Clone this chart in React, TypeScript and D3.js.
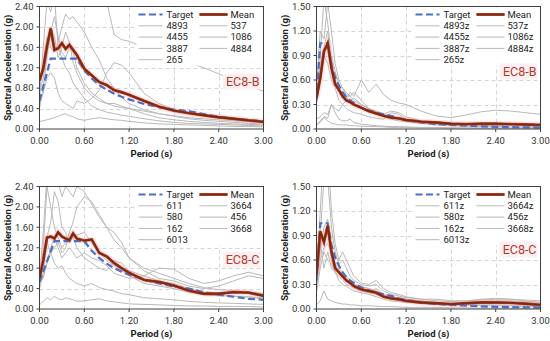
import * as d3 from 'd3'

// periods (s) shared by every spectrum
const PERIODS = [0, 0.05, 0.1, 0.15, 0.2, 0.25, 0.3, 0.35, 0.4, 0.45, 0.5, 0.6, 0.7, 0.8, 0.9, 1.0, 1.1, 1.2, 1.4, 1.6, 1.8, 2.0, 2.2, 2.4, 2.6, 2.8, 3.0]
const X_TICKS = [0, 0.6, 1.2, 1.8, 2.4, 3.0]
const Y_TICKS_H = [0, 0.4, 0.8, 1.2, 1.6, 2.0, 2.4]
const Y_TICKS_V = [0, 0.3, 0.6, 0.9, 1.2, 1.5]

// EC8-B horizontal
const TARGET_B = [0.55, 0.83, 1.1, 1.38, 1.38, 1.38, 1.38, 1.38, 1.38, 1.38, 1.38, 1.15, 0.99, 0.86, 0.77, 0.69, 0.63, 0.58, 0.49, 0.43, 0.38, 0.35, 0.29, 0.24, 0.2, 0.18, 0.15]
const MEAN_B = [0.95, 1.18, 1.62, 1.97, 1.55, 1.58, 1.68, 1.57, 1.65, 1.55, 1.45, 1.18, 1.05, 0.92, 0.86, 0.76, 0.72, 0.67, 0.55, 0.44, 0.36, 0.31, 0.27, 0.23, 0.2, 0.17, 0.14]
const NAMES_B = ['4893', '537', '4455', '1086', '3887', '4884', '265']
const RECORDS_B = [
  [2.6, 3.0, 3.2, 3.4, 3.3, 3.1, 3.0, 2.9, 2.8, 2.7, 2.65, 2.55, 2.5, 2.5, 2.5, 1.85, 1.75, 1.72, 1.6, 1.5, 1.4, 1.3, 1.2, 1.08, 0.96, 0.85, 0.74],
  [0.9, 1.3, 1.8, 1.6, 1.5, 1.7, 2.0, 2.25, 2.15, 2.2, 2.1, 1.9, 1.6, 1.35, 1.0, 0.8, 0.62, 0.5, 0.38, 0.3, 0.25, 0.2, 0.17, 0.15, 0.13, 0.11, 0.1],
  [0.6, 1.6, 2.5, 2.3, 2.6, 1.6, 1.4, 1.2, 1.1, 0.9, 0.8, 0.6, 0.45, 0.38, 0.33, 0.3, 0.27, 0.25, 0.2, 0.16, 0.13, 0.11, 0.1, 0.09, 0.08, 0.07, 0.06],
  [0.5, 0.7, 1.0, 1.1, 1.0, 0.7, 0.55, 0.5, 0.45, 0.4, 0.55, 0.5, 0.6, 0.75, 1.1, 1.3, 1.25, 1.1, 0.7, 0.5, 0.38, 0.3, 0.26, 0.22, 0.2, 0.17, 0.15],
  [0.15, 0.16, 0.18, 0.2, 0.22, 0.25, 0.28, 0.3, 0.26, 0.24, 0.2, 0.17, 0.2, 0.22, 0.2, 0.18, 0.17, 0.15, 0.12, 0.1, 0.09, 0.08, 0.07, 0.06, 0.05, 0.05, 0.04],
  [0.4, 0.8, 1.4, 2.0, 1.8, 1.4, 1.6, 1.9, 1.7, 1.3, 1.1, 0.8, 0.65, 0.55, 0.5, 0.45, 0.42, 0.4, 0.35, 0.3, 0.26, 0.22, 0.2, 0.18, 0.16, 0.14, 0.12],
  [0.7, 1.0, 1.5, 1.9, 2.2, 1.8, 1.5, 1.4, 1.6, 1.5, 1.2, 0.9, 0.7, 0.6, 0.5, 0.5, 0.45, 0.4, 0.3, 0.22, 0.18, 0.15, 0.13, 0.11, 0.1, 0.09, 0.08],
]

// vertical target (both soils)
const TARGET_V = [0.35, 1.05, 1.05, 1.05, 0.79, 0.63, 0.53, 0.45, 0.39, 0.35, 0.32, 0.26, 0.23, 0.2, 0.18, 0.16, 0.13, 0.11, 0.08, 0.06, 0.05, 0.04, 0.033, 0.027, 0.023, 0.02, 0.018]

// EC8-B vertical
const MEAN_BV = [0.38, 0.62, 0.95, 1.05, 0.75, 0.55, 0.48, 0.4, 0.35, 0.33, 0.3, 0.26, 0.22, 0.19, 0.16, 0.14, 0.13, 0.11, 0.09, 0.08, 0.065, 0.06, 0.065, 0.065, 0.06, 0.055, 0.05]
const NAMES_BV = ['4893z', '537z', '4455z', '1086z', '3887z', '4884z', '265z']
const RECORDS_BV = [
  [0.12, 0.15, 0.2, 0.18, 0.3, 0.25, 0.22, 0.3, 0.35, 0.45, 0.4, 0.6, 0.45, 0.55, 0.42, 0.35, 0.32, 0.3, 0.22, 0.16, 0.14, 0.17, 0.21, 0.23, 0.22, 0.2, 0.18],
  [0.4, 0.9, 1.6, 1.3, 0.9, 0.7, 0.55, 0.5, 0.45, 0.4, 0.35, 0.3, 0.25, 0.22, 0.18, 0.15, 0.13, 0.11, 0.09, 0.07, 0.06, 0.05, 0.05, 0.04, 0.04, 0.035, 0.03],
  [0.5, 1.2, 1.1, 1.55, 1.2, 0.8, 0.6, 0.5, 0.42, 0.4, 0.45, 0.35, 0.25, 0.2, 0.15, 0.12, 0.1, 0.09, 0.07, 0.05, 0.04, 0.035, 0.03, 0.03, 0.025, 0.02, 0.02],
  [0.3, 0.7, 0.9, 0.8, 0.6, 0.5, 0.35, 0.3, 0.25, 0.22, 0.2, 0.18, 0.15, 0.13, 0.12, 0.2, 0.18, 0.12, 0.08, 0.06, 0.05, 0.05, 0.05, 0.05, 0.05, 0.05, 0.05],
  [0.05, 0.1, 0.15, 0.13, 0.3, 0.2, 0.12, 0.1, 0.1, 0.12, 0.08, 0.06, 0.05, 0.04, 0.035, 0.03, 0.03, 0.025, 0.02, 0.02, 0.015, 0.015, 0.01, 0.01, 0.01, 0.01, 0.01],
  [0.04, 0.08, 0.14, 0.1, 0.07, 0.06, 0.05, 0.05, 0.05, 0.04, 0.04, 0.035, 0.03, 0.03, 0.025, 0.02, 0.02, 0.02, 0.015, 0.015, 0.01, 0.01, 0.01, 0.01, 0.01, 0.01, 0.01],
  [0.45, 0.8, 1.0, 1.2, 0.8, 0.55, 0.45, 0.42, 0.38, 0.35, 0.38, 0.3, 0.25, 0.2, 0.18, 0.22, 0.2, 0.15, 0.1, 0.08, 0.07, 0.06, 0.06, 0.06, 0.05, 0.05, 0.05],
]

// EC8-C horizontal
const TARGET_C = [0.53, 0.73, 0.93, 1.13, 1.33, 1.33, 1.33, 1.33, 1.33, 1.33, 1.33, 1.33, 1.14, 1.0, 0.89, 0.8, 0.73, 0.67, 0.57, 0.5, 0.44, 0.4, 0.33, 0.28, 0.24, 0.2, 0.18]
const MEAN_C = [0.6, 0.95, 1.4, 1.42, 1.38, 1.5, 1.42, 1.38, 1.35, 1.48, 1.38, 1.34, 1.36, 1.1, 1.03, 0.9, 0.8, 0.71, 0.57, 0.53, 0.46, 0.36, 0.3, 0.3, 0.33, 0.32, 0.26]
const NAMES_C = ['611', '3664', '580', '456', '162', '3668', '6013']
const RECORDS_C = [
  [0.6, 1.5, 2.6, 2.5, 2.7, 2.5, 2.2, 2.4, 2.3, 2.2, 2.4, 2.3, 2.05, 1.8, 1.6, 1.35, 1.2, 1.0, 0.8, 0.7, 0.6, 0.5, 0.42, 0.38, 0.36, 0.34, 0.3],
  [0.5, 0.7, 0.9, 1.1, 1.2, 1.3, 1.1, 1.2, 1.5, 1.7, 2.0, 2.2, 2.1, 1.85, 1.6, 1.5, 1.3, 1.0, 0.75, 0.6, 0.55, 0.45, 0.4, 0.45, 0.55, 0.65, 0.6],
  [0.5, 0.6, 0.9, 1.2, 1.4, 1.2, 1.0, 1.1, 1.2, 1.1, 1.0, 1.1, 1.0, 0.95, 0.85, 0.7, 0.65, 0.6, 0.65, 0.8, 0.78, 0.6, 0.5, 0.55, 0.65, 0.72, 0.65],
  [0.5, 1.2, 2.4, 2.0, 1.6, 1.4, 1.2, 1.3, 1.5, 1.4, 1.2, 1.0, 0.9, 0.8, 0.75, 0.95, 0.9, 0.75, 0.65, 0.55, 0.5, 0.4, 0.32, 0.28, 0.25, 0.23, 0.2],
  [0.4, 0.7, 1.3, 1.1, 0.9, 0.8, 0.85, 0.7, 0.6, 0.55, 0.5, 0.45, 0.5, 0.42, 0.38, 0.35, 0.3, 0.28, 0.22, 0.2, 0.18, 0.15, 0.13, 0.12, 0.11, 0.1, 0.09],
  [0.08, 0.15, 0.22, 0.18, 0.25, 0.2, 0.18, 0.22, 0.2, 0.18, 0.15, 0.16, 0.18, 0.2, 0.16, 0.14, 0.12, 0.1, 0.09, 0.08, 0.07, 0.06, 0.06, 0.05, 0.05, 0.05, 0.04],
  [0.6, 0.9, 1.4, 1.7, 2.3, 2.1, 1.6, 1.5, 1.3, 1.4, 1.45, 1.5, 1.3, 1.1, 0.95, 0.85, 0.75, 0.65, 0.5, 0.45, 0.4, 0.33, 0.28, 0.26, 0.25, 0.24, 0.22],
]

// EC8-C vertical
const MEAN_CV = [0.42, 0.95, 0.82, 1.02, 0.7, 0.5, 0.45, 0.4, 0.35, 0.32, 0.28, 0.24, 0.22, 0.2, 0.15, 0.13, 0.12, 0.1, 0.08, 0.07, 0.06, 0.07, 0.08, 0.08, 0.075, 0.065, 0.05]
const NAMES_CV = ['611z', '3664z', '580z', '456z', '162z', '3668z', '6013z']
const RECORDS_CV = [
  [0.3, 1.2, 2.0, 1.6, 1.0, 0.7, 0.55, 0.6, 0.5, 0.4, 0.35, 0.3, 0.28, 0.3, 0.22, 0.18, 0.16, 0.14, 0.12, 0.1, 0.09, 0.1, 0.12, 0.13, 0.12, 0.11, 0.1],
  [0.4, 0.9, 1.6, 2.0, 1.2, 0.8, 0.6, 0.7, 0.6, 0.5, 0.4, 0.32, 0.3, 0.35, 0.25, 0.2, 0.18, 0.15, 0.12, 0.12, 0.1, 0.1, 0.11, 0.12, 0.12, 0.1, 0.08],
  [0.25, 0.6, 0.75, 0.8, 0.7, 0.55, 0.45, 0.4, 0.35, 0.3, 0.3, 0.28, 0.25, 0.22, 0.18, 0.15, 0.13, 0.12, 0.1, 0.08, 0.07, 0.07, 0.08, 0.09, 0.09, 0.08, 0.07],
  [0.2, 0.5, 0.7, 0.6, 0.55, 0.45, 0.35, 0.3, 0.28, 0.25, 0.22, 0.2, 0.18, 0.15, 0.12, 0.1, 0.09, 0.08, 0.07, 0.06, 0.05, 0.05, 0.04, 0.04, 0.04, 0.03, 0.03],
  [0.05, 0.1, 0.22, 0.12, 0.1, 0.08, 0.07, 0.06, 0.06, 0.05, 0.05, 0.04, 0.04, 0.035, 0.03, 0.03, 0.025, 0.02, 0.02, 0.02, 0.015, 0.015, 0.01, 0.01, 0.01, 0.01, 0.01],
  [0.35, 0.7, 1.0, 1.1, 0.6, 0.45, 0.4, 0.35, 0.3, 0.28, 0.25, 0.22, 0.2, 0.18, 0.15, 0.12, 0.1, 0.09, 0.07, 0.06, 0.05, 0.05, 0.05, 0.05, 0.04, 0.04, 0.04],
  [0.45, 0.8, 0.5, 0.7, 0.5, 0.45, 0.5, 0.45, 0.4, 0.35, 0.3, 0.25, 0.22, 0.25, 0.18, 0.15, 0.13, 0.12, 0.1, 0.08, 0.07, 0.08, 0.1, 0.1, 0.1, 0.09, 0.08],
]

const FONT = 'Roboto, "Noto Sans", sans-serif'
const PW = 224
const PH = 122.5

const PANELS = [
  { left: 39.5, top: 6.5, yTicks: Y_TICKS_H, target: TARGET_B, mean: MEAN_B, records: RECORDS_B, names: NAMES_B, label: 'EC8-B', labelY: 79 },
  { left: 316.5, top: 6.5, yTicks: Y_TICKS_V, target: TARGET_V, mean: MEAN_BV, records: RECORDS_BV, names: NAMES_BV, label: 'EC8-B', labelY: 69 },
  { left: 39.5, top: 186.5, yTicks: Y_TICKS_H, target: TARGET_C, mean: MEAN_C, records: RECORDS_C, names: NAMES_C, label: 'EC8-C', labelY: 77 },
  { left: 316.5, top: 186.5, yTicks: Y_TICKS_V, target: TARGET_V, mean: MEAN_CV, records: RECORDS_CV, names: NAMES_CV, label: 'EC8-C', labelY: 67 },
]

function Panel({ cfg, idx }: { cfg: (typeof PANELS)[number]; idx: number }) {
  const yMax = cfg.yTicks[cfg.yTicks.length - 1]
  const x = d3.scaleLinear().domain([0, 3]).range([cfg.left, cfg.left + PW])
  const y = d3.scaleLinear().domain([0, yMax]).range([cfg.top + PH, cfg.top])
  const line = d3
    .line<number>()
    .x((_, i) => x(PERIODS[i]))
    .y((d) => y(d))
  const clipId = `clip-${idx}`

  // legend layout (relative to plot)
  const lgX = cfg.left + 97
  const rowY = (r: number) => cfg.top + 8 + r * 11.3
  const entries = [
    { kind: 'target', name: 'Target', col: 0, row: 0 },
    { kind: 'mean', name: 'Mean', col: 1, row: 0 },
    ...cfg.names.map((n, i) => ({ kind: 'rec', name: n, col: i % 2, row: 1 + Math.floor(i / 2) })),
  ]
  const sampleX = (col: number) => (col === 0 ? [cfg.left + 99, cfg.left + 123] : [cfg.left + 160, cfg.left + 188])
  const textX = (col: number) => (col === 0 ? cfg.left + 127 : cfg.left + 191)

  return (
    <g>
      <defs>
        <clipPath id={clipId}>
          <rect x={cfg.left} y={cfg.top} width={PW} height={PH} />
        </clipPath>
      </defs>
      {/* grid */}
      <g stroke="#d4d4d4" strokeWidth={1} strokeDasharray="4,3">
        {cfg.yTicks.slice(1, -1).map((t) => (
          <line key={'gy' + t} x1={cfg.left} x2={cfg.left + PW} y1={Math.round(y(t)) + 0.5} y2={Math.round(y(t)) + 0.5} />
        ))}
        {X_TICKS.slice(1, -1).map((t) => (
          <line key={'gx' + t} y1={cfg.top} y2={cfg.top + PH} x1={Math.round(x(t)) + 0.5} x2={Math.round(x(t)) + 0.5} />
        ))}
      </g>
      {/* curves */}
      <g clipPath={`url(#${clipId})`} fill="none">
        {cfg.records.map((r, i) => (
          <path key={i} d={line(r) ?? ''} stroke="#b8b8b8" strokeWidth={1} />
        ))}
        <path d={line(cfg.mean) ?? ''} stroke="#f3b3c2" strokeWidth={6} strokeOpacity={0.35} />
        <path d={line(cfg.target) ?? ''} stroke="#4a6fc9" strokeWidth={2.2} strokeDasharray="7,3.5" />
        <path d={line(cfg.mean) ?? ''} stroke="#c8402e" strokeWidth={2.9} />
        <path d={line(cfg.mean) ?? ''} stroke="#7a2c0c" strokeWidth={1.9} />
      </g>
      {/* legend */}
      <rect x={lgX} y={cfg.top + 1} width={PW - 98} height={58} fill="#fff" />
      <g fontFamily={FONT} fontSize={9.5} fill="#222">
        {entries.map((e) => {
          const [sx0, sx1] = sampleX(e.col)
          const yy = rowY(e.row)
          return (
            <g key={e.name}>
              {e.kind === 'target' && <line x1={sx0} x2={sx1} y1={yy} y2={yy} stroke="#4a6fc9" strokeWidth={2.2} strokeDasharray="7,3.5" />}
              {e.kind === 'mean' && (
                <>
                  <line x1={sx0} x2={sx1} y1={yy} y2={yy} stroke="#c8402e" strokeWidth={2.9} />
                  <line x1={sx0} x2={sx1} y1={yy} y2={yy} stroke="#7a2c0c" strokeWidth={1.9} />
                </>
              )}
              {e.kind === 'rec' && <line x1={sx0} x2={sx1} y1={yy} y2={yy} stroke="#b8b8b8" strokeWidth={1} />}
              <text x={textX(e.col)} y={yy} dy="0.35em">
                {e.name}
              </text>
            </g>
          )
        })}
      </g>
      {/* soil label */}
      <rect x={cfg.left + PW - 41} y={cfg.top + cfg.labelY - 12} width={38} height={16} fill="#fdf0f2" />
      <text x={cfg.left + PW - 4} y={cfg.top + cfg.labelY} textAnchor="end" fontFamily={FONT} fontSize={12.5} fill="#b8352a">
        {cfg.label}
      </text>
      {/* frame and ticks */}
      <rect x={cfg.left} y={cfg.top} width={PW} height={PH} fill="none" stroke="#404040" strokeWidth={1} />
      <g stroke="#404040" strokeWidth={1}>
        {cfg.yTicks.map((t) => (
          <line key={'ty' + t} x1={cfg.left - 3} x2={cfg.left} y1={y(t)} y2={y(t)} />
        ))}
        {X_TICKS.map((t) => (
          <line key={'tx' + t} x1={x(t)} x2={x(t)} y1={cfg.top + PH} y2={cfg.top + PH + 3} />
        ))}
      </g>
      <g fontFamily={FONT} fontSize={9.5} fill="#333">
        {cfg.yTicks.map((t) => (
          <text key={'ly' + t} x={cfg.left - 6} y={y(t)} dy="0.35em" textAnchor="end">
            {t.toFixed(2)}
          </text>
        ))}
        {X_TICKS.map((t) => (
          <text key={'lx' + t} x={x(t)} y={cfg.top + PH + 15} textAnchor="middle">
            {t.toFixed(2)}
          </text>
        ))}
      </g>
      <text x={cfg.left + PW / 2} y={cfg.top + PH + 28} textAnchor="middle" fontFamily={FONT} fontSize={9.5} fontWeight="bold" fill="#222">
        Period (s)
      </text>
      <text
        transform={`translate(${cfg.left - 32}, ${cfg.top + PH / 2}) rotate(-90)`}
        textAnchor="middle"
        dy="0.35em"
        fontFamily={FONT}
        fontSize={9.5}
        fontWeight="bold"
        fill="#222"
      >
        Spectral Acceleration (g)
      </text>
    </g>
  )
}

export default function App() {
  return (
    <svg width={550} height={341} style={{ position: 'absolute', left: 0, top: 0, background: '#fff' }}>
      <rect width={550} height={341} fill="#fff" />
      {PANELS.map((p, i) => (
        <Panel key={i} cfg={p} idx={i} />
      ))}
    </svg>
  )
}
